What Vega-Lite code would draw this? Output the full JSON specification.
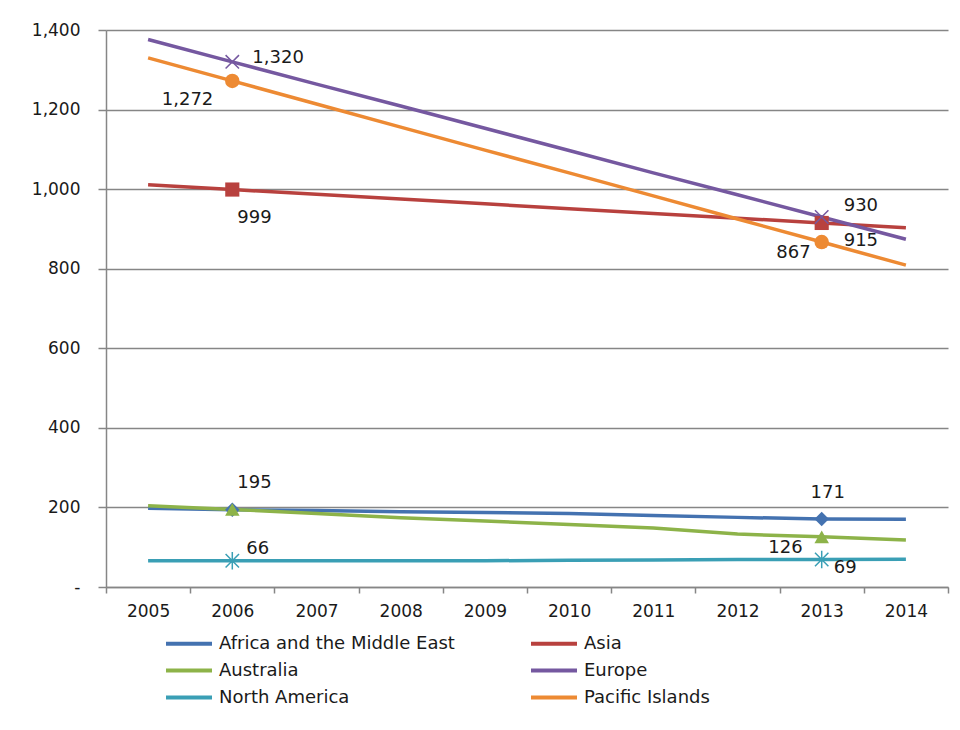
{
  "$schema": "https://vega.github.io/schema/vega-lite/v6.json",
  "width": 842,
  "height": 557,
  "autosize": "none",
  "padding": {"left": 106, "top": 30, "right": 12, "bottom": 143},
  "background": "white",
  "config": {
    "view": {"stroke": null},
    "font": "DejaVu Sans",
    "text": {"font": "DejaVu Sans", "fontSize": 18, "color": "#1a1a1a"},
    "axis": {
      "domainColor": "#868686",
      "tickColor": "#868686",
      "gridColor": "#868686",
      "labelColor": "#1a1a1a",
      "labelFont": "DejaVu Sans",
      "labelFontSize": 17,
      "domainWidth": 1.5,
      "tickWidth": 1.5,
      "gridWidth": 1.5
    }
  },
  "data": {
    "values": [
      {"series": "Africa and the Middle East", "year": 2005, "value": 198},
      {"series": "Africa and the Middle East", "year": 2006, "value": 194},
      {"series": "Africa and the Middle East", "year": 2007, "value": 192},
      {"series": "Africa and the Middle East", "year": 2008, "value": 189},
      {"series": "Africa and the Middle East", "year": 2009, "value": 187},
      {"series": "Africa and the Middle East", "year": 2010, "value": 185},
      {"series": "Africa and the Middle East", "year": 2011, "value": 180},
      {"series": "Africa and the Middle East", "year": 2012, "value": 175},
      {"series": "Africa and the Middle East", "year": 2013, "value": 171},
      {"series": "Africa and the Middle East", "year": 2014, "value": 170},
      {"series": "Asia", "year": 2005, "value": 1011},
      {"series": "Asia", "year": 2006, "value": 999},
      {"series": "Asia", "year": 2007, "value": 987},
      {"series": "Asia", "year": 2008, "value": 975},
      {"series": "Asia", "year": 2009, "value": 963},
      {"series": "Asia", "year": 2010, "value": 951},
      {"series": "Asia", "year": 2011, "value": 939},
      {"series": "Asia", "year": 2012, "value": 927},
      {"series": "Asia", "year": 2013, "value": 915},
      {"series": "Asia", "year": 2014, "value": 903},
      {"series": "Australia", "year": 2005, "value": 204},
      {"series": "Australia", "year": 2006, "value": 195},
      {"series": "Australia", "year": 2007, "value": 185},
      {"series": "Australia", "year": 2008, "value": 174},
      {"series": "Australia", "year": 2009, "value": 166},
      {"series": "Australia", "year": 2010, "value": 157},
      {"series": "Australia", "year": 2011, "value": 148},
      {"series": "Australia", "year": 2012, "value": 133},
      {"series": "Australia", "year": 2013, "value": 126},
      {"series": "Australia", "year": 2014, "value": 118},
      {"series": "Europe", "year": 2005, "value": 1376},
      {"series": "Europe", "year": 2006, "value": 1320},
      {"series": "Europe", "year": 2007, "value": 1264},
      {"series": "Europe", "year": 2008, "value": 1209},
      {"series": "Europe", "year": 2009, "value": 1153},
      {"series": "Europe", "year": 2010, "value": 1097},
      {"series": "Europe", "year": 2011, "value": 1041},
      {"series": "Europe", "year": 2012, "value": 986},
      {"series": "Europe", "year": 2013, "value": 930},
      {"series": "Europe", "year": 2014, "value": 874},
      {"series": "North America", "year": 2005, "value": 66},
      {"series": "North America", "year": 2006, "value": 66},
      {"series": "North America", "year": 2007, "value": 66},
      {"series": "North America", "year": 2008, "value": 66},
      {"series": "North America", "year": 2009, "value": 66},
      {"series": "North America", "year": 2010, "value": 67},
      {"series": "North America", "year": 2011, "value": 68},
      {"series": "North America", "year": 2012, "value": 69},
      {"series": "North America", "year": 2013, "value": 69},
      {"series": "North America", "year": 2014, "value": 70},
      {"series": "Pacific Islands", "year": 2005, "value": 1330},
      {"series": "Pacific Islands", "year": 2006, "value": 1272},
      {"series": "Pacific Islands", "year": 2007, "value": 1214},
      {"series": "Pacific Islands", "year": 2008, "value": 1156},
      {"series": "Pacific Islands", "year": 2009, "value": 1098},
      {"series": "Pacific Islands", "year": 2010, "value": 1041},
      {"series": "Pacific Islands", "year": 2011, "value": 983},
      {"series": "Pacific Islands", "year": 2012, "value": 925},
      {"series": "Pacific Islands", "year": 2013, "value": 867},
      {"series": "Pacific Islands", "year": 2014, "value": 809}
    ]
  },
  "encoding": {
    "x": {
      "field": "year",
      "type": "ordinal",
      "title": null,
      "scale": {"type": "band", "paddingInner": 0, "paddingOuter": 0},
      "axis": {"labelAngle": 0, "tickBand": "extent", "tickSize": 6, "labelPadding": 10, "grid": false}
    },
    "y": {
      "field": "value",
      "type": "quantitative",
      "title": null,
      "scale": {"domain": [0, 1400], "nice": false},
      "axis": {
        "values": [0, 200, 400, 600, 800, 1000, 1200, 1400],
        "labelExpr": "datum.value == 0 ? '-' : format(datum.value, ',')",
        "tickSize": 8,
        "labelPadding": 18,
        "grid": true
      }
    }
  },
  "layer": [
    {
      "mark": {"type": "line", "strokeWidth": 3.5},
      "encoding": {
        "color": {
          "field": "series",
          "type": "nominal",
          "scale": {
            "domain": ["Africa and the Middle East", "Asia", "Australia", "Europe", "North America", "Pacific Islands"],
            "range": ["#4472B0", "#B8413E", "#8DB349", "#7558A0", "#3A9FB5", "#ED8A33"]
          },
          "legend": {
            "title": null,
            "orient": "none",
            "legendX": 69.5,
            "legendY": 600,
            "columns": 2,
            "direction": "horizontal",
            "symbolType": "M-2,0L2,0",
            "symbolSize": 529,
            "symbolStrokeWidth": 4,
            "labelFont": "DejaVu Sans",
            "labelFontSize": 18,
            "labelColor": "#1a1a1a",
            "labelLimit": 400,
            "labelOffset": 16.5,
            "columnPadding": 67,
            "rowPadding": 4
          }
        }
      }
    },
    {
      "transform": [{"filter": "(datum.year == 2006 || datum.year == 2013) && datum.series == 'Africa and the Middle East'"}],
      "mark": {"type": "point", "shape": "diamond", "filled": true, "opacity": 1, "color": "#4472B0", "size": 210}
    },
    {
      "transform": [{"filter": "(datum.year == 2006 || datum.year == 2013) && datum.series == 'Asia'"}],
      "mark": {"type": "point", "shape": "square", "filled": true, "opacity": 1, "color": "#B8413E", "size": 200}
    },
    {
      "transform": [{"filter": "(datum.year == 2006 || datum.year == 2013) && datum.series == 'Europe'"}],
      "mark": {"type": "point", "shape": "M-1,-1L1,1M-1,1L1,-1", "filled": false, "opacity": 1, "color": "#7558A0", "strokeWidth": 1.5, "size": 180}
    },
    {
      "transform": [{"filter": "(datum.year == 2006 || datum.year == 2013) && datum.series == 'Pacific Islands'"}],
      "mark": {"type": "point", "shape": "circle", "filled": true, "opacity": 1, "color": "#ED8A33", "size": 210}
    },
    {
      "transform": [{"filter": "(datum.year == 2006 || datum.year == 2013) && datum.series == 'Australia'"}],
      "mark": {"type": "point", "shape": "triangle-up", "filled": true, "opacity": 1, "color": "#8DB349", "size": 210}
    },
    {
      "transform": [{"filter": "(datum.year == 2006 || datum.year == 2013) && datum.series == 'North America'"}],
      "mark": {"type": "point", "shape": "M-1,-1L1,1M-1,1L1,-1M0,-1.3L0,1.3", "filled": false, "opacity": 1, "color": "#3A9FB5", "strokeWidth": 1.5, "size": 180}
    },
    {
      "transform": [{"filter": "datum.series == 'Europe' && datum.year == 2006"}],
      "mark": {"type": "text", "align": "left", "dx": 20, "dy": -4},
      "encoding": {"text": {"field": "value", "type": "quantitative", "format": ","}, "color": {"value": "#1a1a1a"}}
    },
    {
      "transform": [{"filter": "datum.series == 'Australia' && datum.year == 2006"}],
      "mark": {"type": "text", "align": "left", "dx": 5, "dy": -26},
      "encoding": {"text": {"field": "value", "type": "quantitative", "format": ","}, "color": {"value": "#1a1a1a"}}
    },
    {
      "transform": [{"filter": "datum.series == 'Asia' && datum.year == 2006"}],
      "mark": {"type": "text", "align": "left", "dx": 5, "dy": 28},
      "encoding": {"text": {"field": "value", "type": "quantitative", "format": ","}, "color": {"value": "#1a1a1a"}}
    },
    {
      "transform": [{"filter": "datum.series == 'North America' && datum.year == 2006"}],
      "mark": {"type": "text", "align": "left", "dx": 14, "dy": -12},
      "encoding": {"text": {"field": "value", "type": "quantitative", "format": ","}, "color": {"value": "#1a1a1a"}}
    },
    {
      "transform": [{"filter": "datum.series == 'Pacific Islands' && datum.year == 2006"}],
      "mark": {"type": "text", "align": "right", "dx": -19, "dy": 19},
      "encoding": {"text": {"field": "value", "type": "quantitative", "format": ","}, "color": {"value": "#1a1a1a"}}
    },
    {
      "transform": [{"filter": "datum.series == 'Europe' && datum.year == 2013"}],
      "mark": {"type": "text", "align": "left", "dx": 22, "dy": -11},
      "encoding": {"text": {"field": "value", "type": "quantitative", "format": ","}, "color": {"value": "#1a1a1a"}}
    },
    {
      "transform": [{"filter": "datum.series == 'Asia' && datum.year == 2013"}],
      "mark": {"type": "text", "align": "left", "dx": 22, "dy": 18},
      "encoding": {"text": {"field": "value", "type": "quantitative", "format": ","}, "color": {"value": "#1a1a1a"}}
    },
    {
      "transform": [{"filter": "datum.series == 'Pacific Islands' && datum.year == 2013"}],
      "mark": {"type": "text", "align": "right", "dx": -11, "dy": 11},
      "encoding": {"text": {"field": "value", "type": "quantitative", "format": ","}, "color": {"value": "#1a1a1a"}}
    },
    {
      "transform": [{"filter": "datum.series == 'Africa and the Middle East' && datum.year == 2013"}],
      "mark": {"type": "text", "align": "center", "dx": 6, "dy": -26},
      "encoding": {"text": {"field": "value", "type": "quantitative", "format": ","}, "color": {"value": "#1a1a1a"}}
    },
    {
      "transform": [{"filter": "datum.series == 'Australia' && datum.year == 2013"}],
      "mark": {"type": "text", "align": "right", "dx": -19, "dy": 11},
      "encoding": {"text": {"field": "value", "type": "quantitative", "format": ","}, "color": {"value": "#1a1a1a"}}
    },
    {
      "transform": [{"filter": "datum.series == 'North America' && datum.year == 2013"}],
      "mark": {"type": "text", "align": "left", "dx": 12, "dy": 8},
      "encoding": {"text": {"field": "value", "type": "quantitative", "format": ","}, "color": {"value": "#1a1a1a"}}
    }
  ]
}
